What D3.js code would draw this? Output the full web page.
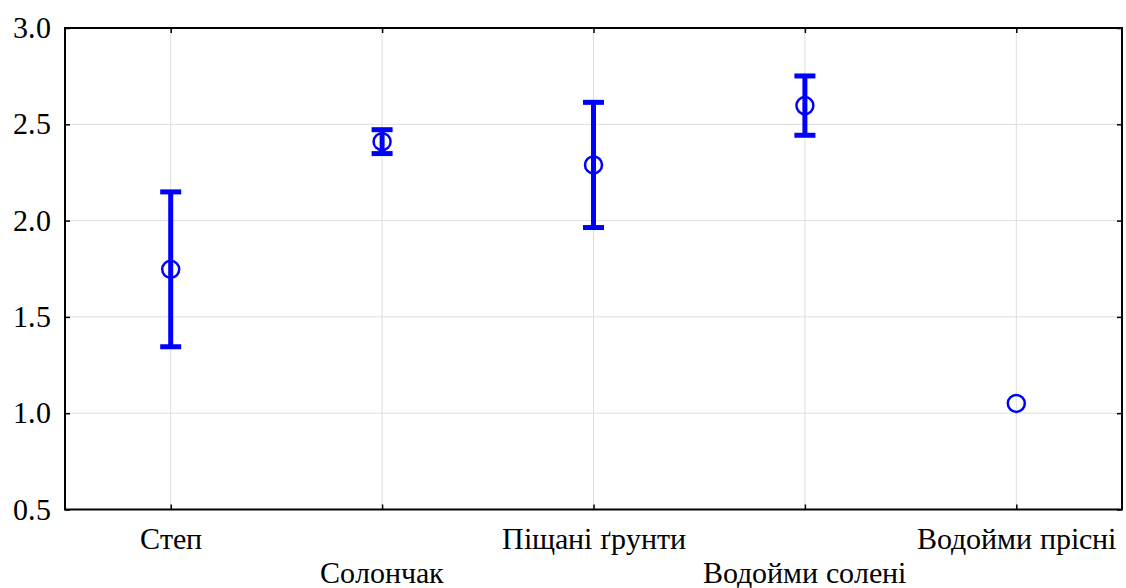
<!DOCTYPE html>
<html lang="uk">
<head>
<meta charset="utf-8">
<script src="https://cdn.jsdelivr.net/npm/d3@7"></script>
<style>
  @font-face {
    font-family: "ChartSerif";
    src: local("Liberation Serif"), local("LiberationSerif"), local("LiberationSerif-Regular"), local("Times New Roman");
    font-display: swap;
  }
  svg text { font-family: "ChartSerif", "Liberation Serif", "Times New Roman"; }
</style>
</head>
<body style="margin:0">
<svg id="chart" width="1126" height="588"></svg>
<script>
// Habitat groups and their means with error-bar half widths
const categories = ["Степ", "Солончак", "Піщані ґрунти", "Водойми солені", "Водойми прісні"];
const means = [1.747, 2.410, 2.289, 2.597, 1.051];
const errors = [0.402, 0.062, 0.325, 0.154, 0];
const yTicks = [0.5, 1.0, 1.5, 2.0, 2.5, 3.0];

const svg = d3.select("#chart");
const plotL = 65, plotR = 1122, plotT = 28, plotB = 509.5;

const x = d3.scalePoint().domain(categories).range([plotL, plotR]).padding(0.5);
const y = d3.scaleLinear().domain([0.5, 3.0]).range([plotB, plotT]);

const blue = "#0000ff";

// grid
const grid = svg.append("g").attr("stroke", "#dedede").attr("stroke-width", 1);
grid.selectAll("line.h").data(yTicks.filter(t => t > 0.5 && t < 3.0)).join("line")
  .attr("class", "h")
  .attr("x1", plotL).attr("x2", plotR)
  .attr("y1", d => y(d)).attr("y2", d => y(d));
grid.selectAll("line.v").data(categories).join("line")
  .attr("class", "v")
  .attr("x1", d => x(d)).attr("x2", d => x(d))
  .attr("y1", plotT).attr("y2", plotB);

// axes with inward ticks on all four sides
const fmt = d3.format(".1f");
const yAxisL = d3.axisLeft(y).tickValues(yTicks).tickFormat(fmt).tickSizeInner(-5).tickSizeOuter(0).tickPadding(14);
const yAxisR = d3.axisRight(y).tickValues(yTicks).tickFormat("").tickSizeInner(-5).tickSizeOuter(0);
const xAxisB = d3.axisBottom(x).tickFormat("").tickSizeInner(-5).tickSizeOuter(0);
const xAxisT = d3.axisTop(x).tickFormat("").tickSizeInner(-5).tickSizeOuter(0);

const gl = svg.append("g").attr("transform", `translate(${plotL},0)`).call(yAxisL);
gl.attr("font-family", null).attr("font-size", 30);
gl.selectAll("text")
  .attr("font-size", 30)
  .attr("fill", "#000");
svg.append("g").attr("transform", `translate(${plotR},0)`).call(yAxisR);
svg.append("g").attr("transform", `translate(0,${plotB})`).call(xAxisB);
svg.append("g").attr("transform", `translate(0,${plotT})`).call(xAxisT);
svg.selectAll(".domain").remove();
svg.selectAll(".tick line").attr("stroke", "#000").attr("stroke-width", 1.5);

// category labels, staggered on two rows
svg.append("g").selectAll("text").data(categories).join("text")
  .attr("x", d => x(d))
  .attr("y", (d, i) => i % 2 === 0 ? 549 : 583)
  .attr("text-anchor", "middle")
  .attr("font-size", 30)
  .attr("fill", "#000")
  .text(d => d);

// frame
svg.append("rect")
  .attr("x", plotL).attr("y", plotT)
  .attr("width", plotR - plotL).attr("height", plotB - plotT)
  .attr("fill", "none").attr("stroke", "#000").attr("stroke-width", 2);

// error bars
const rows = categories.map((c, i) => ({ c, m: means[i], e: errors[i] }));
const eb = svg.append("g").attr("stroke", blue).attr("stroke-width", 5).attr("fill", "none");
const withErr = rows.filter(r => r.e > 0);
eb.selectAll("line.stem").data(withErr).join("line")
  .attr("class", "stem")
  .attr("x1", d => x(d.c)).attr("x2", d => x(d.c))
  .attr("y1", d => y(d.m + d.e)).attr("y2", d => y(d.m - d.e));
eb.selectAll("line.capT").data(withErr).join("line")
  .attr("class", "capT")
  .attr("x1", d => x(d.c) - 10.5).attr("x2", d => x(d.c) + 10.5)
  .attr("y1", d => y(d.m + d.e)).attr("y2", d => y(d.m + d.e));
eb.selectAll("line.capB").data(withErr).join("line")
  .attr("class", "capB")
  .attr("x1", d => x(d.c) - 10.5).attr("x2", d => x(d.c) + 10.5)
  .attr("y1", d => y(d.m - d.e)).attr("y2", d => y(d.m - d.e));

// mean markers
svg.append("g").selectAll("circle").data(rows).join("circle")
  .attr("cx", d => x(d.c)).attr("cy", d => y(d.m))
  .attr("r", 8.5)
  .attr("fill", "none").attr("stroke", blue).attr("stroke-width", 2.5);
</script>
</body>
</html>
